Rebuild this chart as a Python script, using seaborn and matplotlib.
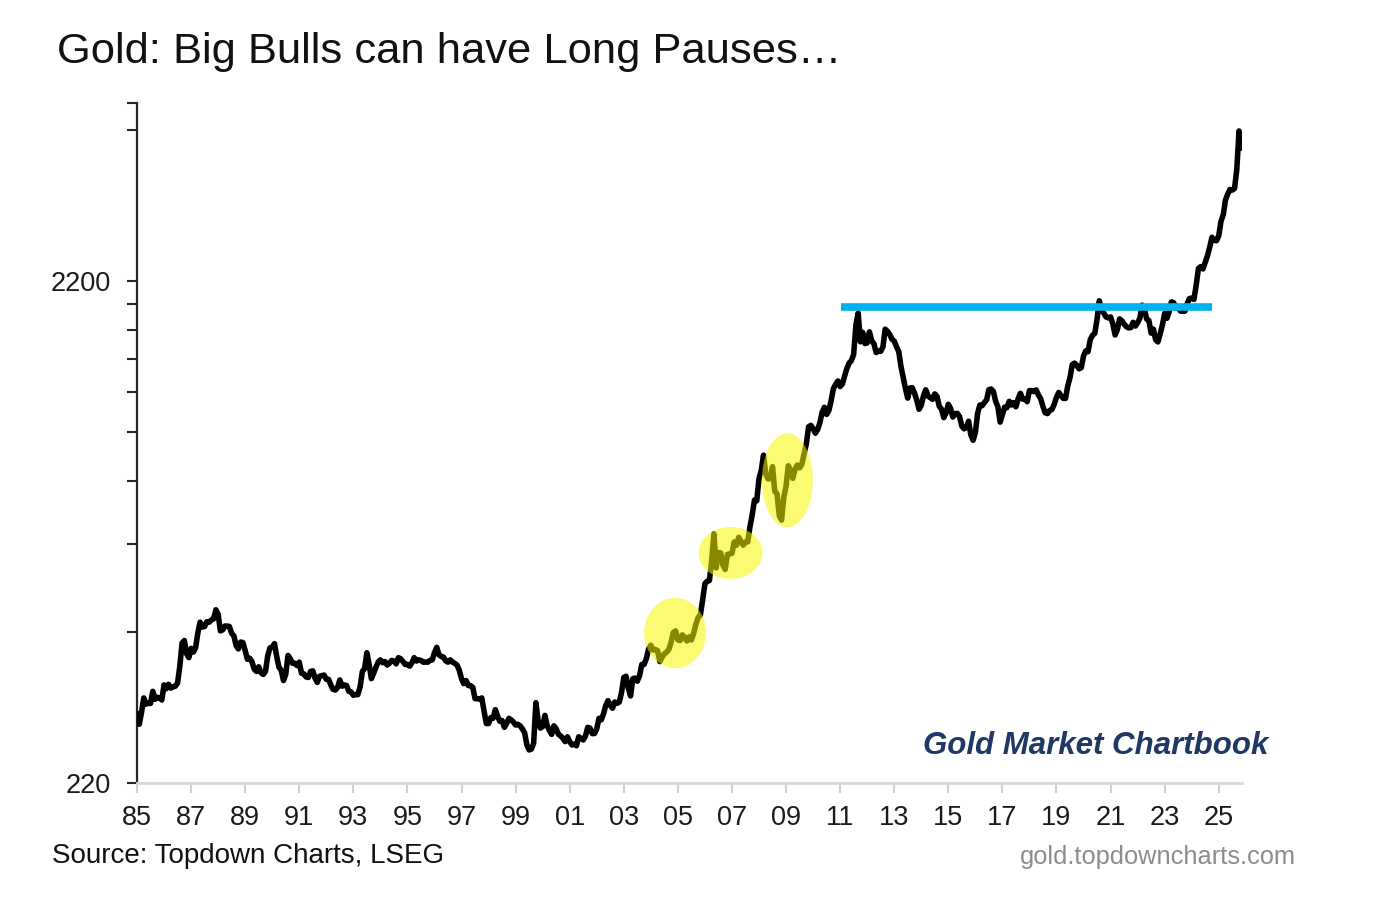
import numpy as np
import pandas as pd
import seaborn as sns
import matplotlib.pyplot as plt
from matplotlib.patches import Ellipse
from matplotlib.transforms import ScaledTranslation

# monthly gold price (USD/oz), Jan 1985 onwards
gold_1985_1994 = [
    303, 288, 304, 325, 316, 317, 317, 335, 323, 326, 325, 322,
    345, 339, 346, 340, 342, 343, 348, 376, 418, 423, 398, 391,
    408, 401, 409, 438, 460, 450, 451, 461, 460, 465, 467, 487,
    477, 442, 444, 452, 452, 451, 437, 432, 413, 407, 420, 419,
    404, 388, 390, 384, 371, 367, 375, 365, 362, 367, 394, 409,
    410, 417, 393, 374, 369, 352, 362, 395, 389, 381, 381, 377,
    383, 364, 363, 358, 357, 367, 368, 356, 349, 359, 360, 361,
    354, 354, 345, 338, 337, 341, 353, 343, 345, 344, 335, 334,
    329, 330, 330, 342, 367, 372, 400, 379, 355, 364, 374, 383,
    387, 382, 384, 378, 381, 386, 385, 380, 391, 389, 384, 379,
]
gold_1995_2004 = [
    379, 376, 382, 391, 385, 387, 386, 383, 383, 383, 386, 387,
    400, 410, 396, 393, 392, 385, 383, 387, 383, 381, 378, 369,
    355, 347, 352, 344, 344, 341, 324, 324, 323, 325, 306, 289,
    289, 297, 296, 308, 299, 292, 293, 284, 289, 296, 294, 291,
    287, 288, 286, 282, 277, 262, 256, 257, 264, 318, 293, 283,
    285, 300, 286, 280, 275, 286, 282, 275, 273, 270, 266, 272,
    266, 262, 263, 261, 272, 270, 268, 273, 284, 283, 276, 276,
    282, 296, 294, 302, 314, 321, 314, 310, 319, 317, 319, 333,
    357, 359, 340, 328, 355, 356, 351, 360, 379, 379, 389, 407,
    414, 405, 406, 404, 384, 392, 398, 401, 406, 420, 439, 442,
]
gold_2005_2014 = [
    424, 423, 434, 429, 422, 430, 424, 437, 456, 470, 476, 510,
    549, 555, 557, 610, 690, 590, 633, 632, 598, 586, 628, 629,
    631, 665, 655, 679, 667, 655, 665, 665, 713, 754, 806, 803,
    889, 923, 990, 909, 888, 889, 939, 839, 829, 750, 735, 816,
    858, 943, 924, 890, 928, 946, 934, 949, 996, 1043, 1127, 1135,
    1118, 1095, 1113, 1148, 1205, 1233, 1193, 1215, 1271, 1343, 1370, 1391,
    1356, 1372, 1424, 1474, 1510, 1528, 1572, 1800, 1900, 1665, 1739, 1652,
    1656, 1743, 1674, 1650, 1585, 1596, 1594, 1627, 1765, 1747, 1722, 1685,
    1671, 1628, 1593, 1487, 1414, 1343, 1286, 1347, 1349, 1316, 1275, 1222,
    1244, 1300, 1336, 1299, 1288, 1279, 1311, 1296, 1238, 1222, 1176, 1200,
]
gold_2015_2025 = [
    1250, 1227, 1179, 1198, 1199, 1181, 1131, 1117, 1125, 1157, 1086, 1060,
    1097, 1199, 1246, 1242, 1260, 1276, 1337, 1341, 1326, 1267, 1236, 1152,
    1192, 1234, 1231, 1267, 1246, 1260, 1236, 1283, 1315, 1280, 1283, 1265,
    1331, 1331, 1325, 1335, 1304, 1282, 1238, 1202, 1198, 1215, 1221, 1250,
    1291, 1320, 1300, 1285, 1284, 1359, 1413, 1500, 1510, 1495, 1471, 1479,
    1560, 1597, 1591, 1683, 1715, 1732, 1846, 2010, 1921, 1900, 1866, 1858,
    1867, 1808, 1718, 1760, 1850, 1834, 1807, 1785, 1775, 1777, 1821, 1790,
    1817, 1856, 1970, 1937, 1849, 1836, 1733, 1765, 1681, 1664, 1726, 1798,
    1898, 1855, 1912, 2000, 1992, 1943, 1951, 1918, 1916, 1917, 1985, 2031,
    2034, 2023, 2160, 2331, 2351, 2326, 2398, 2471, 2571, 2690, 2651, 2648,
    2709, 2895, 2984, 3193, 3280, 3350, 3340, 3365, 3665, 4380, 4050,
]

# highlighted consolidation phases: (year, price) centre, width/height in inches
pause_x = [2004.9, 2006.95, 2009.05]
pause_y = [438, 632, 882]
pause_w = [0.62, 0.64, 0.51]
pause_h = [0.70, 0.52, 0.94]

# 2011 high resistance line
resist_x = [2011.05, 2024.75]
resist_y = [1950, 1950]

year_ticks = list(range(1985, 2026, 2))
year_labels = [f'{y % 100:02d}' for y in year_ticks]

prices = gold_1985_1994 + gold_1995_2004 + gold_2005_2014 + gold_2015_2025
months = pd.date_range('1985-01-01', periods=len(prices), freq='MS')
df = pd.DataFrame({'date': months, 'gold': prices})
df['year'] = df['date'].dt.year + (df['date'].dt.month - 1) / 12

sns.set_style('white')
plt.rcParams['font.family'] = ['Liberation Sans', 'DejaVu Sans']

fig = plt.figure(figsize=(13.79, 9.06), dpi=100)
ax = fig.add_axes([137/1379, 123/906, 1105/1379, 680/906])

sns.lineplot(data=df, x='year', y='gold', ax=ax, color='black', linewidth=4, zorder=3)
ax.plot(resist_x, resist_y, color='#00B0F0', linewidth=5.5, solid_capstyle='butt', zorder=4)

ax.set_yscale('log')
ax.set_ylim(220, 4980)
ax.set_xlim(1985, 2025.86)

for x, y, w, h in zip(pause_x, pause_y, pause_w, pause_h):
    tr = fig.dpi_scale_trans + ScaledTranslation(x, y, ax.transData)
    ax.add_patch(Ellipse((0, 0), w, h, transform=tr, facecolor='#F8F800',
                         edgecolor='none', alpha=0.55, zorder=5))

ax.set_yticks([220, 2200])
ax.set_yticklabels(['220', '2200'])
ax.set_yticks(list(range(440, 2200, 220)) + [4400, 4980], minor=True)
ax.yaxis.set_minor_formatter(plt.NullFormatter())
ax.set_xticks(year_ticks)
ax.set_xticklabels(year_labels)

ax.set_xlabel('')
ax.set_ylabel('')
sns.despine(ax=ax)
ax.spines['left'].set_color('#262626')
ax.spines['left'].set_linewidth(1.6)
ax.spines['bottom'].set_color('#d9d9d9')
ax.spines['bottom'].set_linewidth(2)

ax.tick_params(axis='y', which='both', direction='out', length=7, width=1.5,
               color='#262626', left=True, labelsize=19.5, pad=12, labelcolor='#1a1a1a')
ax.tick_params(axis='x', which='major', direction='out', length=7, width=1.5,
               color='#d0d0d0', bottom=True, labelsize=19.5, pad=9, labelcolor='#1a1a1a')
ax.grid(False)

fig.text(57/1379, 1 - 52/906, 'Gold: Big Bulls can have Long Pauses…',
         fontsize=31.3, va='center', ha='left', color='#111111')
fig.text(1268/1379, 1 - 746/906, 'Gold Market Chartbook', fontsize=22.5,
         fontweight='bold', fontstyle='italic', color='#1F3864', ha='right', va='center')
fig.text(52/1379, 1 - 856/906, 'Source: Topdown Charts, LSEG', fontsize=20,
         ha='left', va='center', color='#111111')
fig.text(1296/1379, 1 - 857/906, 'gold.topdowncharts.com', fontsize=18.3,
         ha='right', va='center', color='#8c8c8c')

fig.savefig('out.png', dpi=100)
